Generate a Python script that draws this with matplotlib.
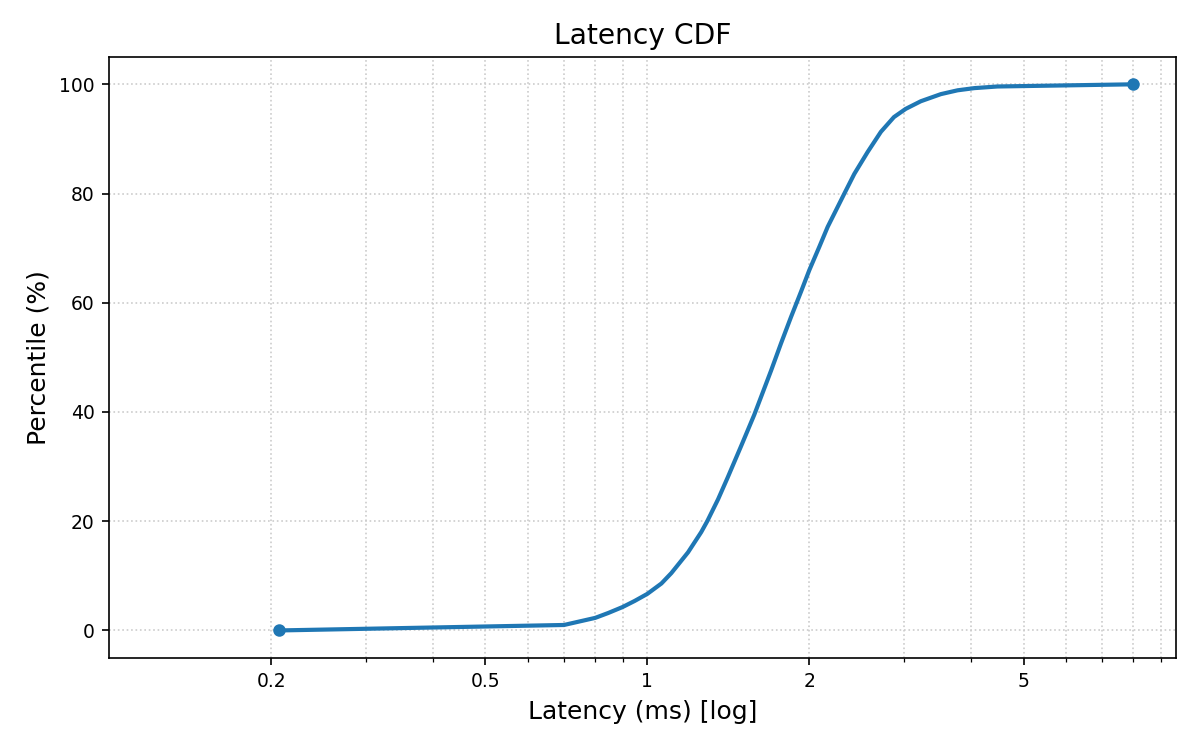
import matplotlib
matplotlib.use("Agg")
import matplotlib.pyplot as plt
from matplotlib.ticker import FixedLocator, FixedFormatter, LogLocator, NullFormatter

latency_ms = [0.207, 0.7, 0.8, 0.846, 0.9, 0.947, 1.0, 1.062, 1.108, 1.19, 1.259,
              1.292, 1.353, 1.41, 1.494, 1.58, 1.698, 1.772, 1.849, 1.931, 2.0,
              2.088, 2.163, 2.323, 2.424, 2.566, 2.716, 2.872, 3.02, 3.222, 3.51,
              3.77, 4.05, 4.47, 8.0]
percentile = [0.0, 1.0, 2.3, 3.2, 4.3, 5.4, 6.7, 8.6, 10.5, 14.3, 18.0,
              20.0, 24.0, 28.0, 33.8, 39.5, 47.6, 52.6, 57.4, 62.1, 66.0,
              70.3, 73.9, 80.0, 83.6, 87.6, 91.3, 94.0, 95.5, 96.9, 98.2,
              98.9, 99.3, 99.6, 100.0]
xticks = [0.2, 0.5, 1, 2, 5]
xtick_labels = ["0.2", "0.5", "1", "2", "5"]
yticks = [0, 20, 40, 60, 80, 100]

fig = plt.figure(figsize=(8, 5), dpi=150)
ax = fig.add_axes([0.091, 0.123, 0.889, 0.801])

ax.plot(latency_ms, percentile, color="#1f77b4", linewidth=2,
        marker="o", markersize=5, markevery=[0, len(latency_ms) - 1])

ax.set_xscale("log")
ax.set_xlim(0.1, 9.6)
ax.set_ylim(-5, 105)
ax.xaxis.set_major_locator(FixedLocator(xticks))
ax.xaxis.set_major_formatter(FixedFormatter(xtick_labels))
ax.xaxis.set_minor_locator(LogLocator(base=10, subs=range(2, 10)))
ax.xaxis.set_minor_formatter(NullFormatter())
ax.set_yticks(yticks)

ax.grid(True, which="both", axis="x", linestyle=":", color="#cccccc", linewidth=0.8)
ax.grid(True, which="major", axis="y", linestyle=":", color="#cccccc", linewidth=0.8)
ax.set_axisbelow(True)

ax.tick_params(axis="both", which="major", labelsize=9)
ax.set_title("Latency CDF", fontsize=13.5)
ax.set_xlabel("Latency (ms) [log]", fontsize=12)
ax.set_ylabel("Percentile (%)", fontsize=12)

fig.savefig("out.png", dpi=150)
